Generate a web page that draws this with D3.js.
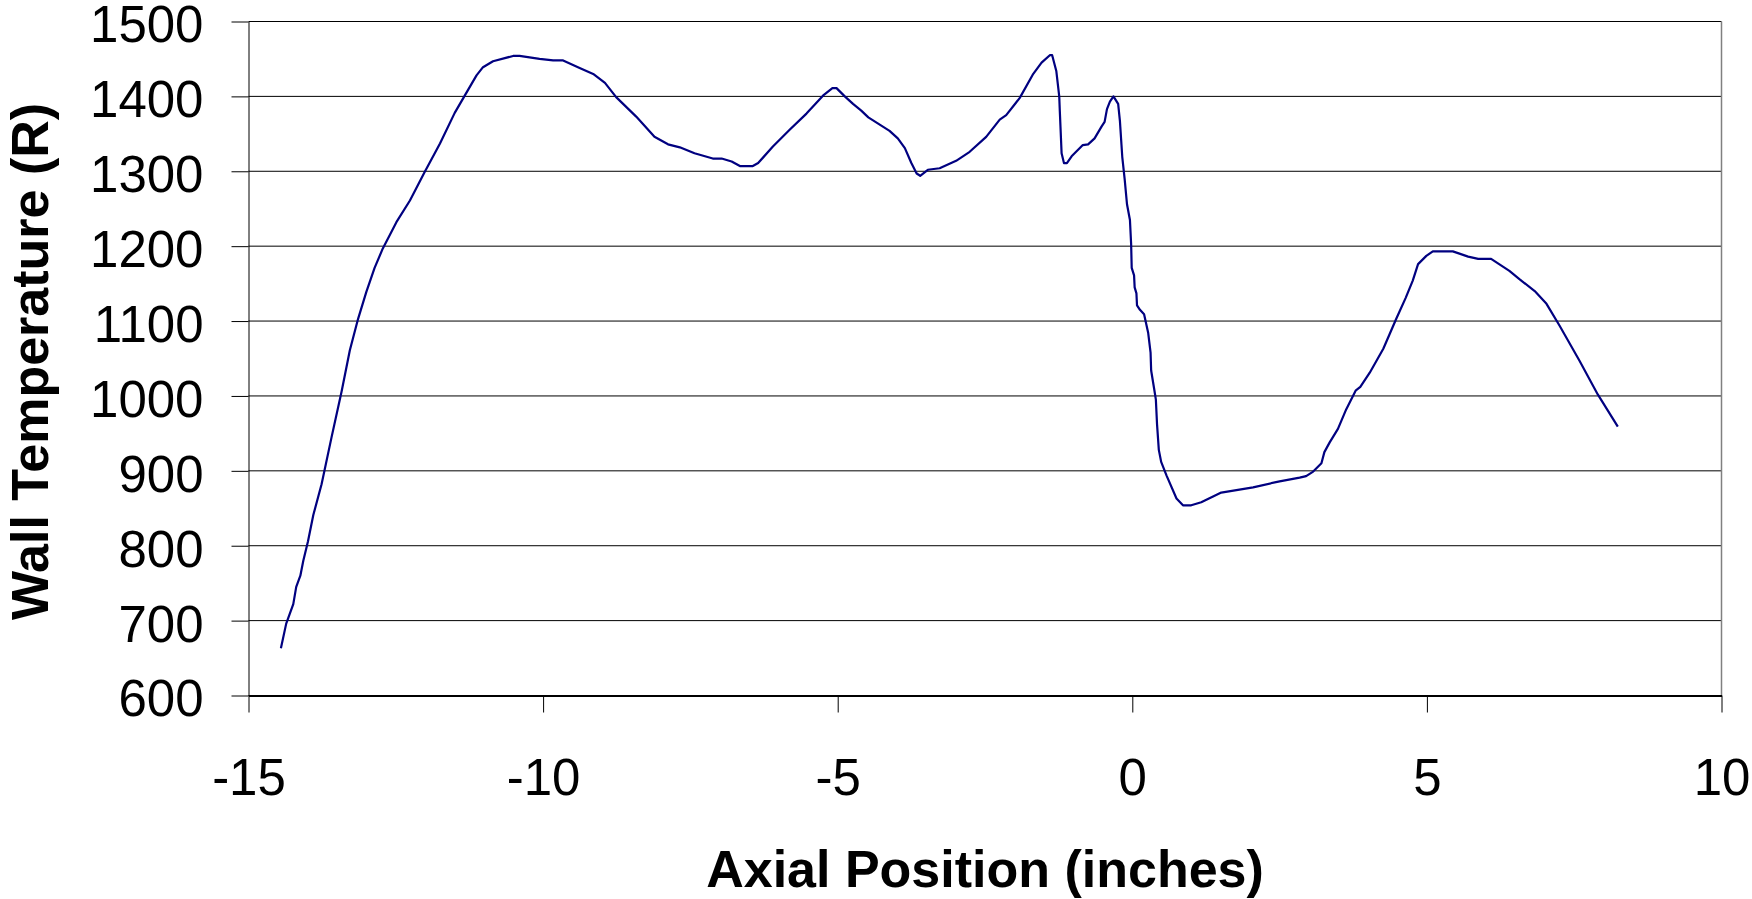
<!DOCTYPE html>
<html>
<head>
<meta charset="utf-8">
<script src="https://cdnjs.cloudflare.com/ajax/libs/d3/7.8.5/d3.min.js"></script>
<style>
body { margin: 0; background: #fff; }
.axis text { font-family: Arial, "Liberation Sans", sans-serif; font-size: 51px; fill: #000; }
.axis path, .axis line { stroke: #000; }
.title { font-family: Arial, "Liberation Sans", sans-serif; font-size: 52px; font-weight: bold; fill: #000; }
</style>
</head>
<body>
<script>
//Width and height
var w = 1752;
var h = 899;

var plotLeft = 248.5, plotRight = 1721.5, plotTop = 21.5, plotBottom = 695.5;

//Axial position (inches) and wall temperature (R)
var position = [-14.45, -14.36, -14.24, -14.19, -14.12, -14.07, -13.99, -13.90, -13.76, -13.59,
  -13.42, -13.28, -13.14, -13.00, -12.86, -12.72, -12.49, -12.26, -12.01, -11.75,
  -11.50, -11.33, -11.13, -11.02, -10.85, -10.51, -10.40, -10.06, -9.83, -9.66,
  -9.38, -9.15, -8.95, -8.76, -8.42, -8.11, -7.88, -7.68, -7.43, -7.12,
  -6.97, -6.80, -6.66, -6.44, -6.35, -6.10, -5.82, -5.53, -5.25, -5.09,
  -5.02, -4.88, -4.74, -4.60, -4.48, -4.32, -4.12, -3.98, -3.86, -3.75,
  -3.66, -3.60, -3.47, -3.27, -2.99, -2.76, -2.48, -2.25, -2.14, -1.91,
  -1.69, -1.54, -1.40, -1.36, -1.29, -1.24, -1.23, -1.20, -1.16, -1.11,
  -1.03, -0.84, -0.75, -0.64, -0.52, -0.47, -0.43, -0.38, -0.32, -0.24,
  -0.21, -0.17, -0.13, -0.09, -0.04, -0.02, -0.01, 0.03, 0.04, 0.07,
  0.08, 0.13, 0.20, 0.27, 0.31, 0.32, 0.37, 0.40, 0.42, 0.45,
  0.49, 0.58, 0.75, 0.86, 1.00, 1.17, 1.51, 2.05, 2.50, 2.84,
  2.95, 3.07, 3.21, 3.26, 3.35, 3.49, 3.63, 3.79, 3.87, 4.03,
  4.26, 4.37, 4.48, 4.64, 4.76, 4.85, 4.99, 5.10, 5.44, 5.70,
  5.87, 6.09, 6.40, 6.57, 6.83, 7.03, 7.25, 7.59, 7.90, 8.24];

var temperature = [663, 696, 722, 745, 760, 780, 806, 841, 882, 945,
  1006, 1061, 1103, 1139, 1171, 1197, 1232, 1261, 1299, 1337,
  1378, 1401, 1428, 1439, 1447, 1454, 1454, 1450, 1448, 1448,
  1438, 1430, 1418, 1399, 1373, 1346, 1336, 1332, 1324, 1317,
  1317, 1313, 1307, 1307, 1311, 1333, 1355, 1377, 1401, 1411,
  1411, 1400, 1390, 1381, 1372, 1364, 1354, 1344, 1331, 1311,
  1297, 1294, 1302, 1304, 1314, 1326, 1346, 1369, 1375, 1398,
  1429, 1445, 1455, 1455, 1434, 1400, 1380, 1324, 1311, 1311,
  1320, 1335, 1336, 1344, 1360, 1366, 1383, 1393, 1400, 1390,
  1367, 1319, 1290, 1256, 1235, 1203, 1171, 1161, 1145, 1137,
  1121, 1115, 1109, 1084, 1058, 1034, 1010, 995, 962, 928,
  912, 894, 863, 854, 854, 858, 871, 878, 886, 891,
  893, 899, 910, 925, 938, 956, 982, 1007, 1012, 1031,
  1063, 1083, 1103, 1131, 1154, 1176, 1187, 1193, 1193, 1186,
  1183, 1183, 1167, 1156, 1140, 1123, 1094, 1047, 1002, 959];

var xTicks = [-15, -10, -5, 0, 5, 10];
var yTicks = [600, 700, 800, 900, 1000, 1100, 1200, 1300, 1400, 1500];

var dataset = position.map(function(d, i) { return [d, temperature[i]]; });

//Create scale functions
var xScale = d3.scaleLinear()
  .domain([-15, 10])
  .range([plotLeft, plotRight]);

var yScale = d3.scaleLinear()
  .domain([600, 1500])
  .range([plotBottom, plotTop]);

//Create SVG element
var svg = d3.select("body")
  .append("svg")
  .attr("width", w)
  .attr("height", h);

//Horizontal gridlines
svg.selectAll("line.grid")
  .data(yTicks)
  .enter()
  .append("line")
  .attr("class", "grid")
  .attr("x1", plotLeft)
  .attr("x2", plotRight)
  .attr("y1", function(d) { return yScale(d); })
  .attr("y2", function(d) { return yScale(d); })
  .attr("stroke", "#000")
  .attr("stroke-width", 1);

//Right border of the plot area
svg.append("line")
  .attr("x1", plotRight)
  .attr("x2", plotRight)
  .attr("y1", plotTop)
  .attr("y2", plotBottom)
  .attr("stroke", "#808080")
  .attr("stroke-width", 1.5);

//plain hyphen for negatives, like the original
var plain = function(d) { return String(d); };

var xAxis = d3.axisBottom(xScale)
  .tickValues(xTicks)
  .tickSize(17)
  .tickSizeOuter(0)
  .tickPadding(46)
  .tickFormat(plain);

var yAxis = d3.axisLeft(yScale)
  .tickValues(yTicks)
  .tickSize(17)
  .tickSizeOuter(0)
  .tickPadding(28)
  .tickFormat(plain);

svg.append("g")
  .attr("class", "axis")
  .attr("transform", "translate(0," + plotBottom + ")")
  .call(xAxis)
  .select(".domain")
  .attr("stroke-width", 2);

svg.append("g")
  .attr("class", "axis")
  .attr("transform", "translate(" + plotLeft + ",0)")
  .call(yAxis)
  .selectAll("text")
  .attr("dy", "0.4em");

//The series line
var line = d3.line()
  .x(function(d) { return xScale(d[0]); })
  .y(function(d) { return yScale(d[1]); });

svg.append("path")
  .datum(dataset)
  .attr("d", line)
  .attr("fill", "none")
  .attr("stroke", "#000080")
  .attr("stroke-width", 2.2)
  .attr("stroke-linejoin", "round");

//Axis titles
svg.append("text")
  .attr("class", "title")
  .attr("x", (plotLeft + plotRight) / 2)
  .attr("y", 887)
  .attr("text-anchor", "middle")
  .text("Axial Position (inches)");

svg.append("text")
  .attr("class", "title")
  .attr("transform", "translate(48," + ((plotTop + plotBottom) / 2 + 3) + ") rotate(-90)")
  .attr("text-anchor", "middle")
  .text("Wall Temperature (R)");
</script>
</body>
</html>
